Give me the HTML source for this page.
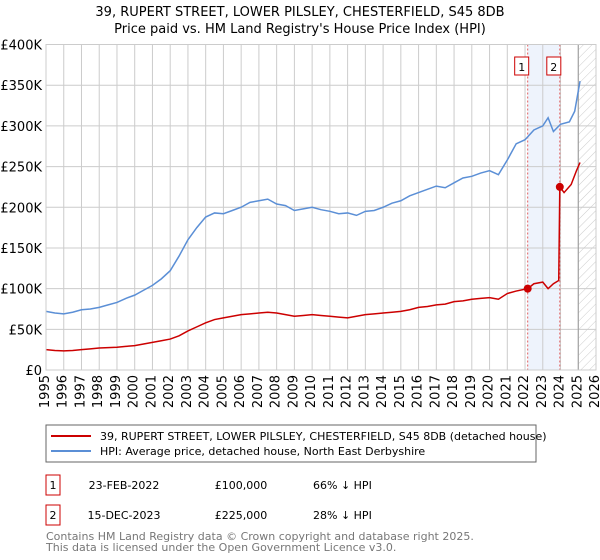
<!DOCTYPE html>
<html><head><meta charset="utf-8"><style>
body{margin:0;width:600px;height:560px;background:#fff;font-family:"Liberation Sans","DejaVu Sans",sans-serif;overflow:hidden;position:relative}
svg{position:absolute;left:0;top:0}
.xl{position:absolute;font-family:"DejaVu Sans","Liberation Sans",sans-serif;font-size:13px;line-height:14px;height:40px;width:14px;white-space:nowrap;writing-mode:vertical-rl;writing-mode:sideways-lr;text-align:end}
</style></head><body>
<svg width="600" height="560" font-family="DejaVu Sans, Liberation Sans, sans-serif">
<text x="300" y="16" text-anchor="middle" font-size="13">39, RUPERT STREET, LOWER PILSLEY, CHESTERFIELD, S45 8DB</text>
<text x="300" y="33" text-anchor="middle" font-size="13">Price paid vs. HM Land Registry's House Price Index (HPI)</text>
<defs><pattern id="hatch" width="6" height="6" patternUnits="userSpaceOnUse" patternTransform="rotate(45)"><line x1="0" y1="0" x2="0" y2="6" stroke="#ccc" stroke-width="1"/></pattern></defs>
<g id="plot"></g>
<rect x="46" y="425" width="490" height="37" fill="#fff" stroke="#666"/>
<line x1="51" y1="436" x2="91" y2="436" stroke="#cc0000" stroke-width="2"/>
<text x="100" y="440" font-size="11">39, RUPERT STREET, LOWER PILSLEY, CHESTERFIELD, S45 8DB (detached house)</text>
<line x1="51" y1="451" x2="91" y2="451" stroke="#5b8fd6" stroke-width="2"/>
<text x="100" y="455" font-size="11">HPI: Average price, detached house, North East Derbyshire</text>
<g font-size="11">
<rect x="46" y="475" width="14" height="20" fill="#fff" stroke="#cc0000"/>
<text x="53" y="489" text-anchor="middle">1</text>
<text x="124" y="489" text-anchor="middle">23-FEB-2022</text>
<text x="241" y="489" text-anchor="middle">£100,000</text>
<text x="313" y="489">66% ↓ HPI</text>
<rect x="46" y="505" width="14" height="20" fill="#fff" stroke="#cc0000"/>
<text x="53" y="519" text-anchor="middle">2</text>
<text x="124" y="519" text-anchor="middle">15-DEC-2023</text>
<text x="241" y="519" text-anchor="middle">£225,000</text>
<text x="313" y="519">28% ↓ HPI</text>
</g>
<text x="46" y="540" font-size="11" fill="#777">Contains HM Land Registry data © Crown copyright and database right 2025.</text>
<text x="46" y="551" font-size="11" fill="#777">This data is licensed under the Open Government Licence v3.0.</text>
</svg>
<div id="xlabels"></div>
<script>
const yTicks=[0,50000,100000,150000,200000,250000,300000,350000,400000];
const yTickLabels=["£0","£50K","£100K","£150K","£200K","£250K","£300K","£350K","£400K"];
const xYears=[1995,1996,1997,1998,1999,2000,2001,2002,2003,2004,2005,2006,2007,2008,2009,2010,2011,2012,2013,2014,2015,2016,2017,2018,2019,2020,2021,2022,2023,2024,2025,2026];
const hpiDates=[1995,1995.5,1996,1996.5,1997,1997.5,1998,1998.5,1999,1999.5,2000,2000.5,2001,2001.5,2002,2002.5,2003,2003.5,2004,2004.5,2005,2005.5,2006,2006.5,2007,2007.5,2008,2008.5,2009,2009.5,2010,2010.5,2011,2011.5,2012,2012.5,2013,2013.5,2014,2014.5,2015,2015.5,2016,2016.5,2017,2017.5,2018,2018.5,2019,2019.5,2020,2020.5,2021,2021.5,2022,2022.5,2023,2023.3,2023.6,2024,2024.5,2024.8,2025.1];
const hpiValues=[72000,70000,69000,71000,74000,75000,77000,80000,83000,88000,92000,98000,104000,112000,122000,140000,160000,175000,188000,193000,192000,196000,200000,206000,208000,210000,204000,202000,196000,198000,200000,197000,195000,192000,193000,190000,195000,196000,200000,205000,208000,214000,218000,222000,226000,224000,230000,236000,238000,242000,245000,240000,258000,278000,283000,295000,300000,310000,293000,302000,305000,318000,355000];
const priceDates=[1995,1995.5,1996,1996.5,1997,1997.5,1998,1998.5,1999,1999.5,2000,2000.5,2001,2001.5,2002,2002.5,2003,2003.5,2004,2004.5,2005,2005.5,2006,2006.5,2007,2007.5,2008,2008.5,2009,2009.5,2010,2010.5,2011,2011.5,2012,2012.5,2013,2013.5,2014,2014.5,2015,2015.5,2016,2016.5,2017,2017.5,2018,2018.5,2019,2019.5,2020,2020.5,2021,2021.5,2022.15,2022.5,2023,2023.3,2023.6,2023.9,2023.96,2024.2,2024.6,2024.9,2025.1];
const priceValues=[25000,24000,23500,24000,25000,26000,27000,27500,28000,29000,30000,32000,34000,36000,38000,42000,48000,53000,58000,62000,64000,66000,68000,69000,70000,71000,70000,68000,66000,67000,68000,67000,66000,65000,64000,66000,68000,69000,70000,71000,72000,74000,77000,78000,80000,81000,84000,85000,87000,88000,89000,87000,94000,97000,100000,106000,108000,100000,106000,110000,225000,218000,228000,245000,255000];
const sales=[{n:"1",date:2022.15,value:100000},{n:"2",date:2023.96,value:225000}];
const X0=46,X1=596,Y0=370,Y1=44.5;
const x=d=>X0+(d-1995)/(2026-1995)*(X1-X0);
const y=v=>Y0-v/400000*(Y0-Y1);
const NS="http://www.w3.org/2000/svg";
const g=document.getElementById('plot');
const gx=document.getElementById('xlabels');
function mk(t,a){const e=document.createElementNS(NS,t);for(const k in a)e.setAttribute(k,a[k]);g.appendChild(e);return e;}
let e=mk('rect',{x:X0,y:Y1,width:X1-X0,height:Y0-Y1,fill:'#fff'});


e=mk('rect',{x:x(sales[0].date),y:Y1,width:x(sales[1].date)-x(sales[0].date),height:Y0-Y1,fill:'#eef3fc'});


e=mk('rect',{x:x(2025),y:Y1,width:X1-x(2025),height:Y0-Y1,fill:'url(#hatch)'});


yTicks.forEach((v,i)=>{
 let l=mk('line',{x1:X0,x2:X1,y1:y(v),y2:y(v),stroke:'#ccc'});
 
 
 let t=mk('text',{x:X0-4,y:y(v)+5,'text-anchor':'end','font-size':13});
 t.textContent=yTickLabels[i];
 
 
});
xYears.forEach(yr=>{
 let l=mk('line',{x1:x(yr),x2:x(yr),y1:Y1,y2:Y0,stroke:'#ccc'});
 
 
 const d=document.createElement('div');
 d.className='xl';
 d.style.left=(x(yr)-7)+'px';
 d.style.top=(Y0+5)+'px';
 d.textContent=yr;
 
 
 gx.appendChild(d);
});
e=mk('line',{x1:x(2025),x2:x(2025),y1:Y1,y2:Y0,stroke:'#999'});


sales.forEach(s=>{
 let l=mk('line',{x1:x(s.date),x2:x(s.date),y1:Y1,y2:Y0,stroke:'#e06060','stroke-dasharray':'2,2'});
 
 
});
e=mk('path',{d:hpiDates.map((d,i)=>(i?'L':'M')+x(d)+','+y(hpiValues[i])).join(''),fill:'none',stroke:'#5b8fd6','stroke-width':1.5});


e=mk('path',{d:priceDates.map((d,i)=>(i?'L':'M')+x(d)+','+y(priceValues[i])).join(''),fill:'none',stroke:'#cc0000','stroke-width':1.5});


sales.forEach(s=>{
 let c=mk('circle',{cx:x(s.date),cy:y(s.value),r:4,fill:'#cc0000'});
 
 
 let r=mk('rect',{x:x(s.date)-13,y:57,width:14,height:18,fill:'#fff',stroke:'#cc0000'});
 
 
 let t=mk('text',{x:x(s.date)-6,y:71,'text-anchor':'middle','font-size':11});
 t.textContent=s.n;
 
 
});
e=mk('rect',{x:X0,y:Y1,width:X1-X0,height:Y0-Y1,fill:'none',stroke:'#ccc'});


</script>
</body></html>
